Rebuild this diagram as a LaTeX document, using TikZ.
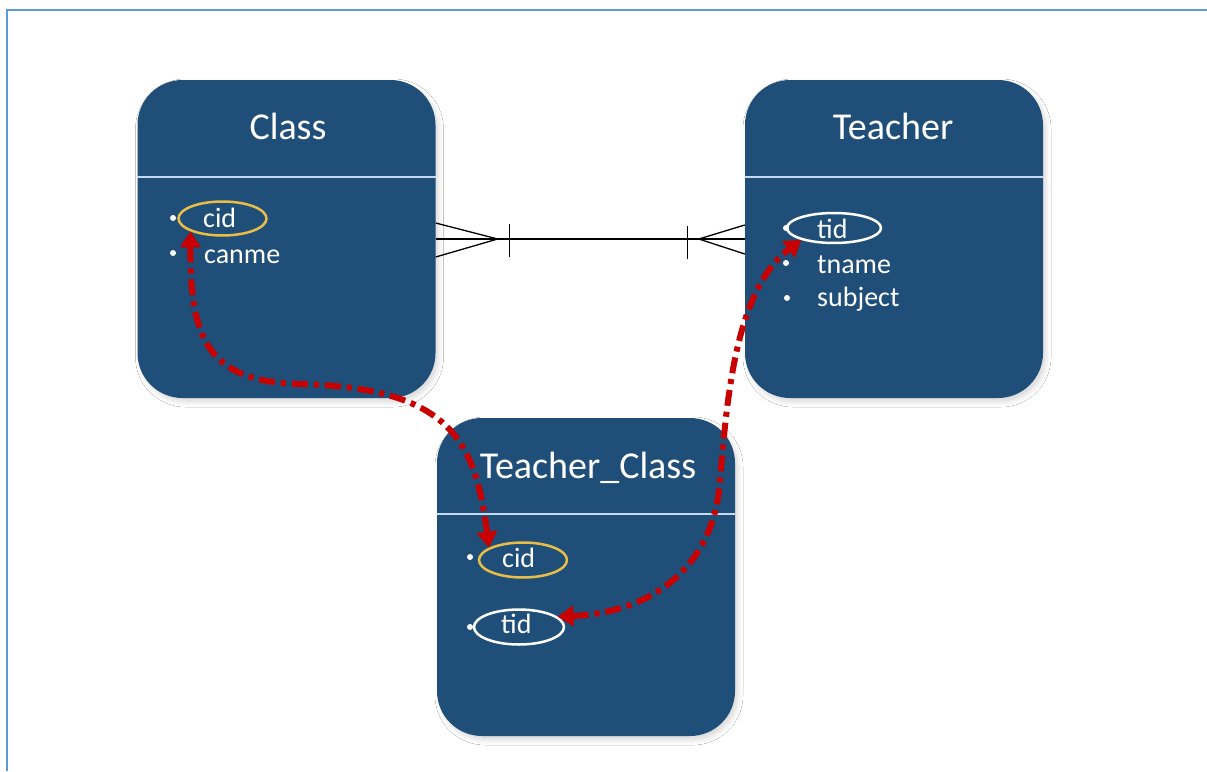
\documentclass[tikz,border=0pt]{standalone}
\usepackage{fontspec}
\setmainfont{Carlito}
\usetikzlibrary{arrows.meta,shapes.geometric,shadows.blur}
\definecolor{boxblue}{RGB}{31,78,121}
\definecolor{frameblue}{RGB}{91,155,213}
\definecolor{divline}{RGB}{197,217,241}
\definecolor{keygold}{RGB}{232,190,70}
\definecolor{relred}{RGB}{200,0,0}
\begin{document}
\begin{tikzpicture}[x=1pt,y=-1pt,
  entity/.style={draw=none, fill=boxblue, rounded corners=45pt, minimum width=298pt, minimum height=318pt, inner sep=0pt,
    blur shadow={shadow xshift=3pt, shadow yshift=-4pt, shadow opacity=15, shadow blur radius=5pt}},
  etitle/.style={text=white, font=\fontsize{38}{42}\selectfont, inner sep=0pt, anchor=base},
  attr/.style={text=white, font=\fontsize{28}{30}\selectfont, inner sep=0pt, anchor=base west},
  keyell/.style={ellipse, draw=#1, line width=2.5pt, inner sep=0pt},
  bul/.style={circle, fill=white, inner sep=0pt, minimum size=6pt},
  divider/.style={draw=divline, line width=2pt},
  crow/.style={draw=black, line width=1.3pt},
  fkarrow/.style={draw=relred, line width=6pt, dash pattern=on 16pt off 6pt on 5pt off 6pt,
    {Triangle[length=16pt,width=20pt]}-{Triangle[length=16pt,width=20pt]}}
]
\useasboundingbox (0,0) rectangle (1207,771);
\fill[white] (0,0) rectangle (1207,771);
% frame
\coordinate (frTL) at (7,10);
\coordinate (frTR) at (1207,10);
\coordinate (frBL) at (7,771);
\draw[frameblue, line width=2pt] (frBL) -- (frTL) -- (frTR);

% entities
\node[entity] (class) at (286.5,239) {};
\node[entity] (teacher) at (894,239) {};
\node[entity] (tc) at (586,577) {};

% titles
\node[etitle] (classT) at (288,139) {Class};
\node[etitle] (teacherT) at (893,139) {Teacher};
\node[etitle] (tcT) at (588,478) {Teacher\_Class};

% dividers
\draw[divider] (class.west |- 0,177) -- (class.east |- 0,177);
\draw[divider] (teacher.west |- 0,177) -- (teacher.east |- 0,177);
\draw[divider] (tc.west |- 0,514) -- (tc.east |- 0,514);

% Class attributes
\node[keyell=keygold, minimum width=88pt, minimum height=34pt] (ccid) at (222.5,218.5) {};
\node[bul] (cb1) at (173,218) {};
\node[bul] (cb2) at (173,253) {};
\node[attr] (ccidT) at (203,227) {cid};
\node[attr] (cname) at (204,263) {canme};

% Teacher attributes
\node[keyell=white, minimum width=94pt, minimum height=30pt] (ttid) at (834,228) {};
\node[bul] (tb1) at (786,228) {};
\node[bul] (tb2) at (786,263) {};
\node[bul] (tb3) at (787,298) {};
\node[attr] (ttidT) at (817,238) {tid};
\node[attr] (tname) at (817,273) {tname};
\node[attr] (tsubj) at (817,306) {subject};

% Teacher_Class attributes
\node[keyell=keygold, minimum width=88pt, minimum height=35pt] (tccid) at (523,560) {};
\node[keyell=white, minimum width=90pt, minimum height=35pt] (tctid) at (519,627) {};
\node[bul] (tcb1) at (470,557) {};
\node[bul] (tcb2) at (470,627) {};
\node[attr] (tccidT) at (502,567) {cid};
\node[attr] (tctidT) at (501,633) {tid};

% crow's foot relationship
\draw[crow] (class.east) -- (teacher.west);
\draw[crow] ([yshift=16pt]class.east) -- ([xshift=62pt]class.east) -- ([yshift=-18pt]class.east);
\draw[crow] ([xshift=74pt,yshift=15pt]class.east) -- ([xshift=74pt,yshift=-18pt]class.east);
\draw[crow] ([yshift=14pt]teacher.west) -- ([xshift=-46pt]teacher.west) -- ([yshift=-15pt]teacher.west);
\draw[crow] ([xshift=-57pt,yshift=13pt]teacher.west) -- ([xshift=-57pt,yshift=-20pt]teacher.west);

% foreign key arrows
\draw[fkarrow] (ccid.south west) .. controls (190,335) and (205,382) .. (300,384)
  .. controls (450,388) and (475,440) .. (tccid.160);
\draw[fkarrow] (tctid.15) .. controls (660,612) and (715,560) .. (720,480)
  .. controls (727,400) and (735,290) .. (ttid.200);
\end{tikzpicture}
\end{document}
